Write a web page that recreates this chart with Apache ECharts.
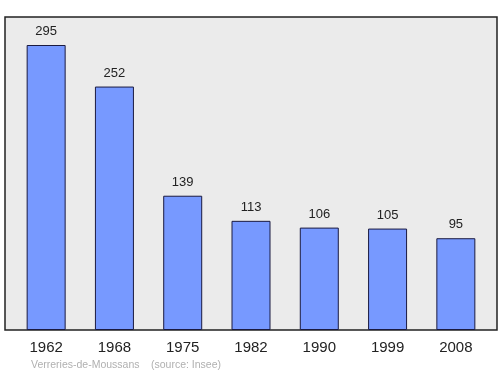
<!DOCTYPE html>
<html><head><meta charset="utf-8">
<script src="https://cdn.jsdelivr.net/npm/echarts@6/dist/echarts.min.js"></script>
<style>html,body{margin:0;padding:0;background:#fff}#c{width:500px;height:374px}</style>
</head><body><div id="c"></div>
<script>
const years = ['1962','1968','1975','1982','1990','1999','2008'];
const population = [295,252,139,113,106,105,95];
const placeName = 'Verreries-de-Moussans';
const sourceText = '(source: Insee)';
const chart = echarts.init(document.getElementById('c'));
chart.setOption({
  animation: false,
  graphic: [
    {type:'rect', z:-10, shape:{x:5,y:17,width:492,height:313}, style:{fill:'#ebebeb', stroke:'#222', lineWidth:1.5}},
    {type:'text', left:31, top:360, style:{text:placeName, fill:'#b0b0b0', font:'10.5px "Liberation Sans", Arial, sans-serif'}},
    {type:'text', left:151, top:360, style:{text:sourceText, fill:'#b0b0b0', font:'10.5px "Liberation Sans", Arial, sans-serif'}}
  ],
  grid: {left:12, right:10, top:17, bottom:44},
  xAxis: {type:'category', data:years, axisLine:{show:false}, axisTick:{show:false},
    axisLabel:{color:'#222', fontSize:15, margin:10, fontFamily:'Liberation Sans, Arial, sans-serif'}},
  yAxis: {type:'value', min:0, max:324, show:false, splitLine:{show:false}},
  series: [{type:'bar', data:population, barWidth:39,
    itemStyle:{color:'#7799ff', borderColor:'#1a1a40', borderWidth:1},
    label:{show:true, position:'top', distance:7, color:'#222', fontSize:13, fontFamily:'Liberation Sans, Arial, sans-serif'}}]
});
</script></body></html>
